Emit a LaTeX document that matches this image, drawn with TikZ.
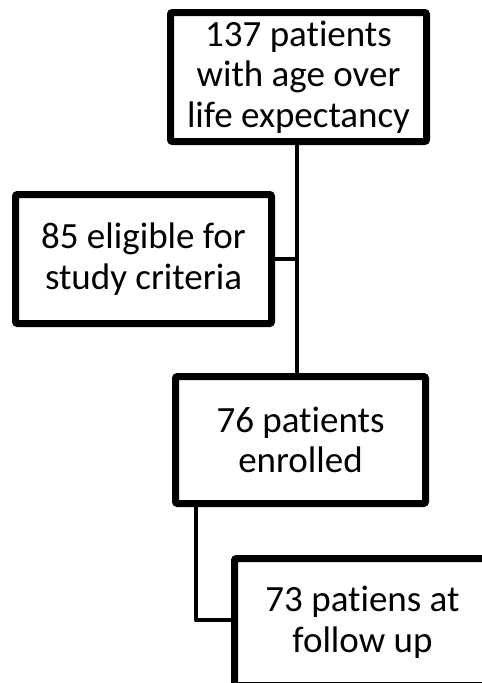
\documentclass[tikz,border=0pt]{standalone}
\usepackage{fontspec}
\setmainfont{Carlito}[Ligatures={NoCommon}]
\usetikzlibrary{backgrounds,shadows}
\begin{document}
\begin{tikzpicture}[x=1pt,y=-1pt,
  box/.style={draw=black, fill=white, line width=7pt, rounded corners=2pt,
    inner sep=0pt, align=center, font=\fontsize{37}{40.5}\selectfont,
    drop shadow={shadow xshift=2pt, shadow yshift=-2pt, opacity=0.25, fill=black}},
  link/.style={draw=black, line width=4.5pt, line join=round}]
\useasboundingbox (0,0) rectangle (482,683);
\clip (0,0) rectangle (482,683);
\begin{scope}[on background layer]
\fill[white] (0,0) rectangle (482,683);
\end{scope}
\node[box, minimum width=256pt, minimum height=129pt] (b1) at (298.5,77) {137 patients\\with age over\\life expectancy};
\node[box, minimum width=256pt, minimum height=129pt] (b2) at (143.5,259) {85 eligible for\\study criteria};
\node[box, minimum width=250pt, minimum height=127pt] (b3) at (300.5,440) {76 patients\\enrolled};
\node[box, minimum width=256pt, minimum height=127pt] (b4) at (362.5,622) {73 patiens at\\follow up};
\coordinate (j) at (297,259);
\coordinate (k) at (196,620);
\begin{scope}[on background layer]
\draw[link] (j |- b1.south) -- (j |- b3.north);
\draw[link] (b2.east) -- (j);
\draw[link] (k |- b3.south) -- (k) -- (k -| b4.west);
\end{scope}
\end{tikzpicture}
\end{document}
